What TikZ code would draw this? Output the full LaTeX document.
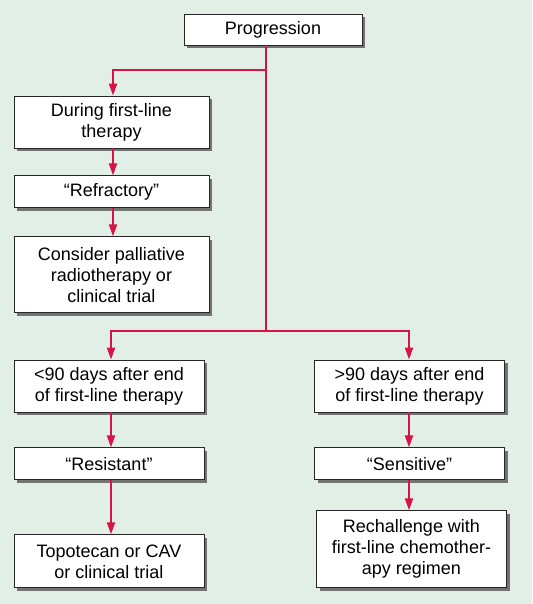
\documentclass[tikz,border=0pt]{standalone}
\usepackage{fontspec}
\setmainfont{Liberation Sans}
\usetikzlibrary{arrows.meta, positioning, shadows}

\definecolor{paper}{RGB}{225,239,230}
\definecolor{flowred}{RGB}{214,20,70}

\begin{document}
\begin{tikzpicture}[x=1pt, y=-1pt,
			stepbox/.style={draw=black!85, line width=0.9pt, fill=white, minimum width=190pt, minimum height=32pt, inner sep=2pt, align=center, font=\fontsize{18}{21}\selectfont, drop shadow={shadow xshift=3pt, shadow yshift=-3pt, fill=black!55, opacity=1}},
			wide/.style={minimum width=195pt},
			link/.style={flowred, line width=2pt},
			arrow/.style={link, -{Triangle[length=12pt, width=8pt]}}
			]
			\fill[paper] (0,0) rectangle (532,604);
			
			\node[stepbox, minimum width=178pt, minimum height=31pt] (prog) at (273,29.5) {Progression};
			
			\node[stepbox, wide, minimum height=52pt] (during) at (111.5,122) {During first-line\\therapy};
			\node[stepbox, wide, below=27pt of during] (refr) {“Refractory”};
			\node[stepbox, wide, minimum height=76pt, below=28pt of refr] (palli) {Consider palliative\\radiotherapy or\\clinical trial};
			
			\node[stepbox, minimum height=52pt] (early) at (109,386) {<90 days after end\\of first-line therapy};
			\node[stepbox, below=35pt of early] (resist) {“Resistant”};
			\node[stepbox, minimum height=53pt, below=54pt of resist] (topo) {Topotecan or CAV\\or clinical trial};
			
			\node[stepbox, minimum height=52pt] (late) at (409.5,386) {>90 days after end\\of first-line therapy};
			\node[stepbox, below=35pt of late] (sens) {“Sensitive”};
			\node[stepbox, minimum height=77pt, below=30pt of sens, xshift=2pt] (rechal) {Rechallenge with\\first-line chemother-\\apy regimen};
			
			\coordinate (fork1) at (266,70);
			\coordinate (fork2) at (266,331);
			
			\draw[link] (prog.south -| fork1) -- (fork2);
			\draw[arrow] (fork1) -| ([xshift=1.5pt]during.north);
			\draw[arrow] ([xshift=1.5pt]during.south) -- ([xshift=1.5pt]refr.north);
			\draw[arrow] ([xshift=1.5pt]refr.south) -- ([xshift=1.5pt]palli.north);
			\draw[arrow] (fork2) -| ([xshift=2pt]early.north);
			\draw[arrow] ([xshift=2pt]early.south) -- ([xshift=2pt]resist.north);
			\draw[arrow] ([xshift=2pt]resist.south) -- ([xshift=2pt]topo.north);
			\draw[arrow] (fork2) -| ([xshift=-0.5pt]late.north);
			\draw[arrow] ([xshift=-0.5pt]late.south) -- ([xshift=-0.5pt]sens.north);
			\draw[arrow] ([xshift=-0.5pt]sens.south) -- ([xshift=-0.5pt]sens.south |- rechal.north);
	\end{tikzpicture}
\end{document}
